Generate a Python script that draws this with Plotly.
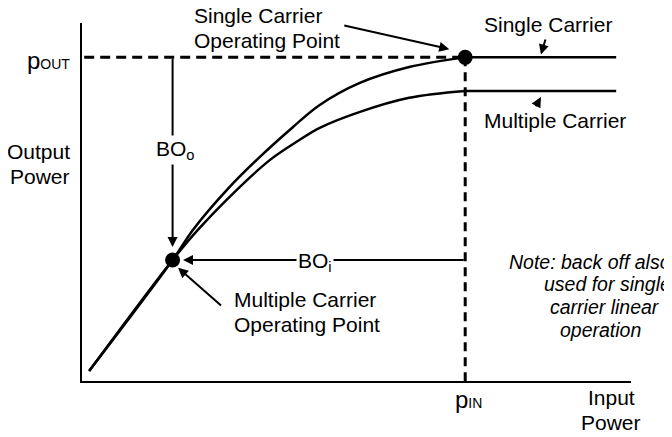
"""
Amplifier transfer curve with input / output back-off (single vs multiple carrier).
"""

import plotly.graph_objects as go

# ── data (arbitrary power units, 0-100 on each axis) ──
single_in = [1.3, 16.5, 20.2, 26.4, 32.4, 38.4, 43.3, 50.5, 59.6, 69.8]
single_out = [2.8, 33.8, 42.2, 53.4, 62.6, 70.9, 77.1, 83.2, 87.7, 90.4]
multi_in = [1.3, 16.5, 21.1, 28.2, 34.2, 39.6, 43.3, 50.5, 59.6, 69.8]
multi_out = [2.8, 33.8, 42.2, 53.4, 61.7, 67.3, 70.7, 75.1, 79.1, 81.0]
sat_end = 97.3  # where the flat (saturated) part stops

# operating points
p_in = single_in[-1]
p_out = single_out[-1]
mc_in = multi_in[1]
mc_out = multi_out[1]

FONT = "Arial, Liberation Sans, sans-serif"
INK = "black"

fig = go.Figure()

# dashed guides for p_OUT and p_IN
fig.add_trace(go.Scatter(x=[0.4, p_in], y=[p_out, p_out], mode="lines",
                         line=dict(color=INK, width=3, dash="10px,6px")))
fig.add_trace(go.Scatter(x=[p_in, p_in], y=[p_out, 0], mode="lines",
                         line=dict(color=INK, width=3, dash="9px,6px")))

# transfer curves
for xs, ys in [(single_in, single_out), (multi_in, multi_out)]:
    fig.add_trace(go.Scatter(x=xs, y=ys, mode="lines", line_shape="spline",
                             line=dict(color=INK, width=2.5)))
    fig.add_trace(go.Scatter(x=[xs[-1], sat_end], y=[ys[-1], ys[-1]], mode="lines",
                             line=dict(color=INK, width=2.5)))

# operating points
fig.add_trace(go.Scatter(x=[p_in, mc_in], y=[p_out, mc_out], mode="markers",
                         marker=dict(color=INK, size=15)))


def arrow(x, y, ax, ay):
    fig.add_annotation(x=x, y=y, ax=ax, ay=ay, xref="x", yref="y", axref="x", ayref="y",
                       text="", showarrow=True, arrowhead=2, arrowsize=1,
                       arrowwidth=2, arrowcolor=INK, standoff=0, startstandoff=0)


def label(text, x, y, xanchor="center", xref="x", yref="y", size=21,
          italic=False, bg=None):
    fig.add_annotation(x=x, y=y, xref=xref, yref=yref, text=text, showarrow=False,
                       xanchor=xanchor, yanchor="middle",
                       font=dict(family=FONT, size=size, color=INK,
                                 style="italic" if italic else "normal"),
                       bgcolor=bg, borderpad=1)


# back-off arrows
arrow(mc_in, mc_out + 3.6, mc_in, p_out)
arrow(mc_in + 1.9, mc_out, p_in, mc_out)
label("BO<sub>o</sub>", 17.1, 64.5, bg="white")
label("BO<sub>i</sub>", 42.5, 33.2, bg="white")

# callouts
arrow(66.9, 92.7, 47.5, 99.4)
label("Single Carrier", 20.0, 1.021, xanchor="left", yref="paper")
label("Operating Point", 20.0, 95.0, xanchor="left")
arrow(17.5, 31.6, 25.6, 20.7)
label("Multiple Carrier", 27.3, 22.9, xanchor="left")
label("Operating Point", 27.3, 15.9, xanchor="left")
arrow(83.6, 91.2, 84.5, 95.8)
label("Single Carrier", 84.9, 99.6)
arrow(83.6, 79.3, 82.5, 76.3)
label("Multiple Carrier", 86.1, 72.8)

# axis labels
label("p<span style='font-size:14px'>OUT</span>", -0.018, 89.6, xanchor="right",
      xref="paper", size=24)
label("p<span style='font-size:14px'>IN</span>", 70.4, -0.052, yref="paper", size=24)
label("Output", -0.018, 64.2, xanchor="right", xref="paper")
label("Power", -0.018, 57.2, xanchor="right", xref="paper")
label("Input", 96.4, -0.047, yref="paper")
label("Power", 96.4, -0.117, yref="paper")

# note (lines are staggered in the original)
note_lines = ["Note: back off also", "used for single", "carrier linear", "operation"]
note_x = [77.5, 83.8, 84.9, 86.7]
note_y = [33.2, 27.1, 20.7, 14.2]
for t, nx, ny in zip(note_lines, note_x, note_y):
    label(t, nx, ny, xanchor="left", size=19.5, italic=True)

fig.update_xaxes(range=[0, 100], showline=True, linecolor=INK, linewidth=2,
                 showgrid=False, zeroline=False, showticklabels=False, ticks="")
fig.update_yaxes(range=[0, 100], showline=True, linecolor=INK, linewidth=2,
                 showgrid=False, zeroline=False, showticklabels=False, ticks="")
# the page body adds an 8px margin top/left, so the figure is 8px smaller each way
fig.update_layout(
    width=664, height=429,
    margin=dict(l=74, r=41, t=15, b=56),
    paper_bgcolor="white", plot_bgcolor="white",
    showlegend=False,
    font=dict(family=FONT, color=INK),
)

fig.write_html("out.html")
